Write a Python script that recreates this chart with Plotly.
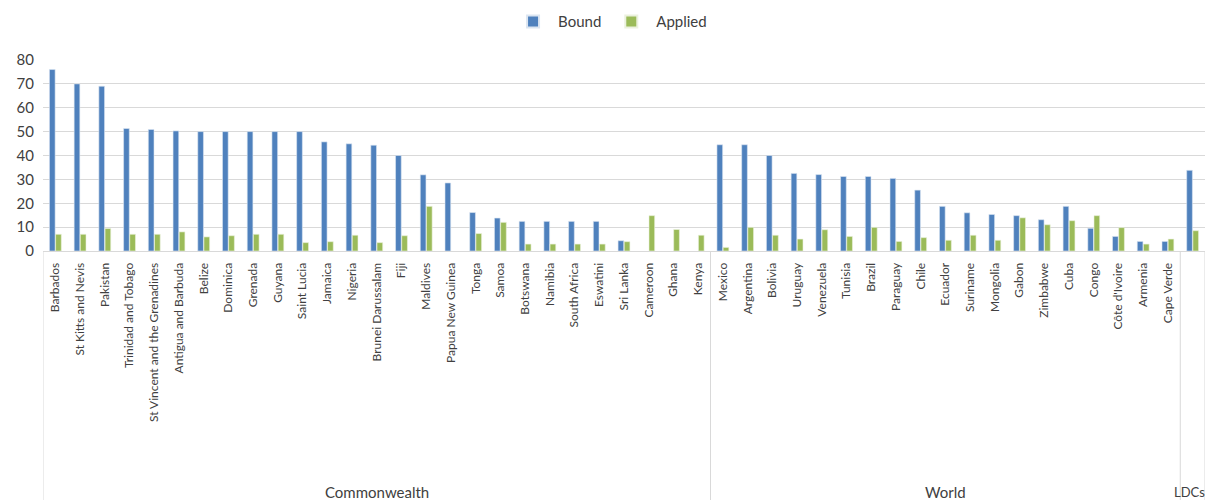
import plotly.graph_objects as go

countries = ["Barbados", "St Kitts and Nevis", "Pakistan", "Trinidad and Tobago",
             "St Vincent and the Grenadines", "Antigua and Barbuda", "Belize", "Dominica",
             "Grenada", "Guyana", "Saint Lucia", "Jamaica", "Nigeria", "Brunei Darussalam",
             "Fiji", "Maldives", "Papua New Guinea", "Tonga", "Samoa", "Botswana", "Namibia",
             "South Africa", "Eswatini", "Sri Lanka", "Cameroon", "Ghana", "Kenya",
             "Mexico", "Argentina", "Bolivia", "Uruguay", "Venezuela", "Tunisia", "Brazil",
             "Paraguay", "Chile", "Ecuador", "Suriname", "Mongolia", "Gabon", "Zimbabwe",
             "Cuba", "Congo", "Côte d'Ivoire", "Armenia", "Cape Verde", " "]

bound = [76, 70, 69, 51.3, 50.9, 50.3, 50, 50, 50, 50, 50, 45.7, 44.9, 44.3,
         40, 31.9, 28.5, 16.1, 13.8, 12.4, 12.4, 12.4, 12.4, 4.3, None, None, None,
         44.5, 44.5, 40, 32.5, 32, 31.2, 31.2, 30.4, 25.5, 18.7, 16, 15.3, 14.8, 13.1,
         18.7, 9.5, 6.1, 4, 4, 33.8]

applied = [7, 7, 9.4, 7, 7, 8, 5.9, 6.4, 7, 7, 3.5, 3.9, 6.6, 3.5,
           6.4, 18.7, None, 7.3, 12, 2.9, 2.9, 2.9, 2.9, 3.9, 14.8, 9, 6.6,
           1.5, 9.9, 6.6, 5, 8.9, 6.1, 9.9, 4, 5.6, 4.5, 6.6, 4.5, 13.9, 11,
           12.7, 14.8, 9.8, 2.9, 5, 8.5]

groups = ["Commonwealth", "World", "LDCs"]
group_sizes = [27, 19, 1]
group_font_sizes = [15, 15, 13]
group_shifts = [0, 0, -3]

font_family = "Lato, Open Sans, sans-serif"
text_color = "#404040"
grid_color = "#d9d9d9"

fig = go.Figure()
fig.add_trace(go.Bar(name="Bound", x=countries, y=bound, marker_color="#4F81BD",
                     marker_line_color="#dbe5f1", marker_line_width=0.6))
fig.add_trace(go.Bar(name="Applied", x=countries, y=applied, marker_color="#9BBB59",
                     marker_line_color="#ebf1de", marker_line_width=0.6))

# group dividers and labels
bottom = -1.31
start = 0
edges = [-0.5]
for g, n, fs, sh in zip(groups, group_sizes, group_font_sizes, group_shifts):
    x0 = start - 0.5
    x1 = start + n - 0.5
    edges.append(x1)
    fig.add_annotation(x=(x0 + x1) / 2, y=-1.262, xref="x", yref="paper",
                       text=g, showarrow=False, yanchor="middle", xshift=sh,
                       font=dict(family=font_family, size=fs, color=text_color))
    start += n
for e in edges:
    fig.add_shape(type="line", xref="x", yref="paper", x0=e, x1=e, y0=0, y1=bottom,
                  line=dict(color=grid_color, width=1))

fig.update_layout(
    width=1209, height=500,
    margin=dict(l=43, r=4, t=60, b=249),
    paper_bgcolor="white", plot_bgcolor="white",
    barmode="group", bargap=0.5, bargroupgap=0.08,
    font=dict(family=font_family, color=text_color),
    legend=dict(orientation="h", x=0.488, xanchor="center", y=1.2, yanchor="middle",
                font=dict(size=15, color=text_color), itemwidth=40, itemsizing="constant"),
    showlegend=True,
)
fig.update_xaxes(type="category", tickangle=-90, showline=True, linecolor=grid_color,
                 tickfont=dict(size=12, color=text_color), ticks="", showgrid=False,
                 range=[-0.5, len(countries) - 0.5], ticklabelstandoff=6)
fig.update_yaxes(range=[0, 80], dtick=10, showgrid=True, gridcolor=grid_color,
                 tickfont=dict(size=15, color=text_color), zeroline=False,
                 ticklabelstandoff=8, showline=False)

fig.write_html("out.html")
